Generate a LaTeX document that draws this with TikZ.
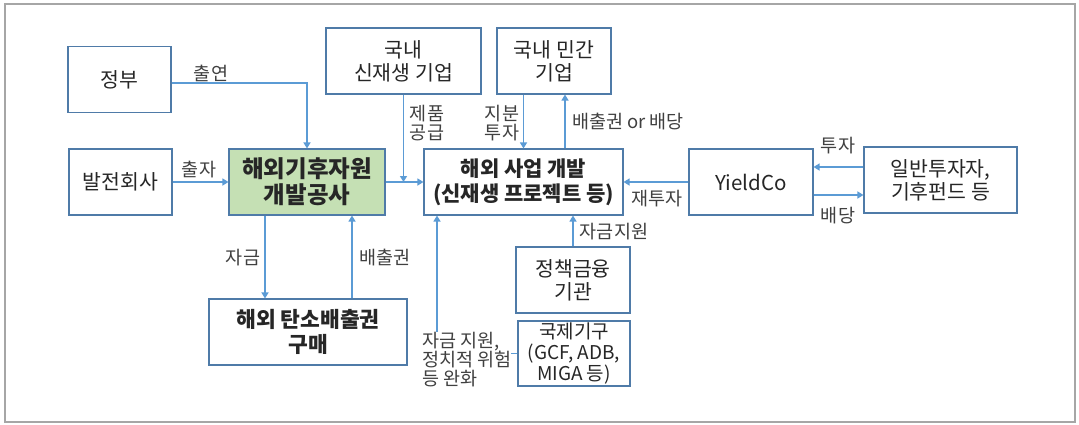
\documentclass[tikz,border=0pt]{standalone}
\usepackage{fontspec}
\setmainfont{Noto Sans CJK KR}
\usetikzlibrary{arrows.meta}
\definecolor{boxline}{HTML}{4F7BA8}
\definecolor{conline}{HTML}{5B9BD5}
\definecolor{greenfill}{HTML}{C5E0B4}
\definecolor{frameg}{HTML}{A6A6A6}
\definecolor{boxtext}{HTML}{262626}
\definecolor{labtext}{HTML}{404040}
\tikzset{
  box/.style={draw=boxline, line width=1.1pt, fill=white, inner sep=0pt, align=center,
    text=boxtext, font=\fontsize{20.5}{23}\selectfont},
  boldbox/.style={box, font=\fontsize{21}{25}\selectfont\bfseries},
  conn/.style={draw=conline, line width=1.3pt, -{Triangle[length=6pt,width=7pt]}},
  lab/.style={text=labtext, font=\fontsize{18.5}{19}\selectfont, inner sep=0pt, align=left}
}
\begin{document}
\begin{tikzpicture}[x=1pt,y=-1pt]
\useasboundingbox (0,0) rectangle (1079,424);
\fill[white] (0,0) rectangle (1079,424);
\draw[frameg, line width=1.6pt] (5,4) rectangle (1075,422);

% boxes
\node[box, minimum width=103, minimum height=66] (gov) at (119.5,79.5) {정부};
\node[box, minimum width=103, minimum height=66] (gen) at (120.5,182) {발전회사};
\node[boldbox, font=\fontsize{23.5}{26}\selectfont\bfseries, fill=greenfill, minimum width=156, minimum height=66] (kofi) at (307,182) {해외기후자원\\개발공사};
\node[box, minimum width=155, minimum height=66] (dre) at (403.5,61) {국내\\신재생 기업};
\node[box, minimum width=114, minimum height=66] (dpc) at (554,61) {국내 민간\\기업};
\node[boldbox, minimum width=199, minimum height=66] (odev) at (523.5,182) {해외 사업 개발\\(신재생 프로젝트 등)};
\node[box, minimum width=124, minimum height=66] (yc) at (751,182) {YieldCo};
\node[box, minimum width=153, minimum height=66] (inv) at (940.5,180) {일반투자자,\\기후펀드 등};
\node[boldbox, font=\fontsize{21.5}{25}\selectfont\bfseries, minimum width=198, minimum height=66] (carb) at (308,332) {해외 탄소배출권\\구매};
\node[box, minimum width=114, minimum height=66] (pfi) at (573,280) {정책금융\\기관};
\node[box, font=\fontsize{19}{21}\selectfont, minimum width=112, minimum height=65] (intl) at (574,353.5) {국제기구\\(GCF, ADB,\\MIGA 등)};

% connectors
\draw[conn] ([yshift=-3.5pt]gov.east) -| (kofi.north);
\draw[conn] (gen.east) -- (kofi.west);
\draw[conn] (kofi.east) -- (odev.west);
\draw[conn] (dre.south) -- (dre.south |- kofi.east);
\draw[conn] ([xshift=-30.5pt]dpc.south) -- (odev.north);
\draw[conn] ([xshift=41.5pt]odev.north) -- ([xshift=11pt]dpc.south);
\draw[conn] (yc.west) -- (odev.east);
\draw[conn] ([yshift=13pt]inv.west) -- ([yshift=15pt]yc.east);
\draw[conn] ([yshift=-13pt]yc.east) -- ([yshift=-15pt]inv.west);
\draw[conn] ([xshift=-42pt]kofi.south) -- ([xshift=-43pt]carb.north);
\draw[conn] ([xshift=44pt]carb.north) -- ([xshift=45pt]kofi.south);
\draw[conn] (pfi.north) -- (pfi.north |- odev.south);
\draw[conn] (intl.west) -| ([xshift=-86.5pt]odev.south);

% labels
\node[lab] (l1) at (211,73) {출연};
\node[lab] (l2) at (199,170) {출자};
\node[lab] (l3) at (427,123) {제품\\공급};
\node[lab] (l4) at (502,123) {지분\\투자};
\node[lab] (l5) at (628,122) {배출권 or 배당};
\node[lab] (l6) at (657,199) {재투자};
\node[lab] (l7) at (838,146) {투자};
\node[lab] (l8) at (838,216) {배당};
\node[lab] (l9) at (243,258) {자금};
\node[lab] (l10) at (385,258) {배출권};
\node[lab] (l11) at (614,232) {자금지원};
\node[lab, fill=white, anchor=north west] (l12) at (422,332) {자금 지원,\\정치적 위험\\등 완화};
\end{tikzpicture}
\end{document}
